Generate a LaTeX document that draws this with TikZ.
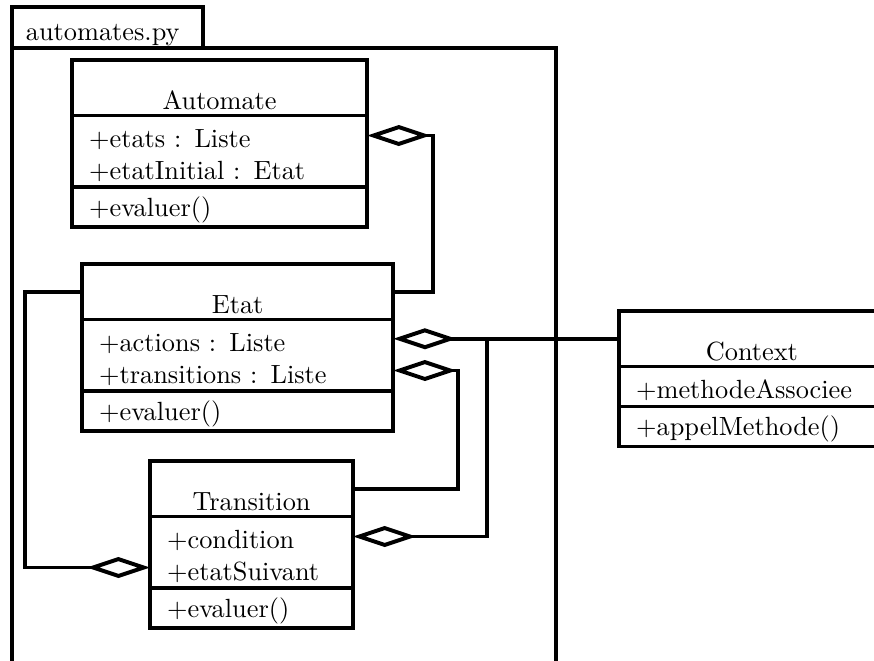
\documentclass[tikz,border=0pt]{standalone}
\usepackage{amsmath, amssymb}
\usepackage{tikz}
\usetikzlibrary{calc, arrows.meta, positioning}
\tikzset{
    umlline/.style = {line width=1.5pt},
    classnode/.style = {draw, umlline, rectangle, outer sep=0pt, inner xsep=6.5pt, inner ysep=0pt, 
      text width=#1, align=center, text height=18.8pt, text depth=2.3pt},
    attrnode/.style 2 args = {draw, umlline, rectangle, outer sep=0pt, inner xsep=6.5pt, inner ysep=0pt, 
      text width=#1, align=left, text height=12.2pt, text depth=#2},
    opsnode/.style = {draw, umlline, rectangle, outer sep=0pt, inner xsep=6.5pt, inner ysep=0pt, 
      text width=#1, align=left, text height=11pt, text depth=4.2pt},
    tabnode/.style = {draw, umlline, rectangle, outer sep=0pt, inner xsep=5.3pt, inner ysep=0pt, 
      text width=62pt, align=left, text height=12.5pt, text depth=3pt},
    aggr/.style = {umlline, -{Diamond[open, length=24pt, width=8pt]}}
}

\begin{document}
\begin{tikzpicture}[x=0.38pt, y=0.38pt]
    \useasboundingbox (0,0) rectangle (874,-661);

    % package
    \node [tabnode, anchor=south west] (pkgtab) at (12,-48) {automates.py};
    \draw [umlline] (pkgtab.south west) rectangle (556,-720);

    % classes
    \node [classnode=99.2pt, anchor=north west] (automate) at (72,-60) {Automate};
    \node [attrnode={99.2pt}{15pt}, below=0pt of automate] (automate-attr) {+etats : Liste\\+etatInitial : Etat};
    \node [opsnode=99.2pt, below=0pt of automate-attr] (automate-ops) {+evaluer()};

    \node [classnode=105.3pt, anchor=north west] (etat) at (82,-264) {Etat};
    \node [attrnode={105.3pt}{15pt}, below=0pt of etat] (etat-attr) {+actions : Liste\\+transitions : Liste};
    \node [opsnode=105.3pt, below=0pt of etat-attr] (etat-ops) {+evaluer()};

    \node [classnode=64.2pt, anchor=north west] (transition) at (150,-461) {Transition};
    \node [attrnode={64.2pt}{15pt}, below=0pt of transition] (transition-attr) {+condition\\+etatSuivant};
    \node [opsnode=64.2pt, below=0pt of transition-attr] (transition-ops) {+evaluer()};

    \node [classnode=88pt, anchor=north west] (context) at (619,-311) {Context};
    \node [attrnode={88pt}{3pt}, below=0pt of context] (context-attr) {+methodeAssociee};
    \node [opsnode=88pt, below=0pt of context-attr] (context-ops) {+appelMethode()};

    % aggregations
    \coordinate (ctxjoin) at ($(context.west)+(-132,0)$);
    \draw [aggr] (etat.east) -- ++(40,0) |- ($(automate-attr.north east)+(0,-20)$);
    \draw [aggr] (etat.west) -- ++(-57,0) |- ($(transition-attr.north west)+(0,-51)$);
    \draw [aggr] (transition.east) -- ++(105,0) |- ($(etat-attr.north east)+(0,-51)$);
    \draw [aggr] (context.west) -- (context.west -| etat-attr.east);
    \draw [aggr] (ctxjoin) |- ($(transition-attr.north east)+(0,-20)$);
\end{tikzpicture}
\end{document}
